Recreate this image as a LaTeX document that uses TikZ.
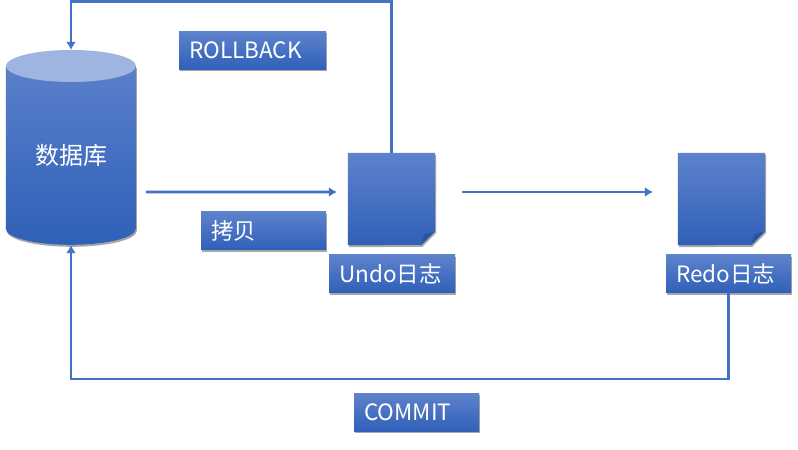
\documentclass[tikz,border=0pt]{standalone}
\usepackage{fontspec}
\setmainfont{Noto Sans CJK SC}
\usetikzlibrary{arrows.meta,shadows}
\definecolor{flowblue}{HTML}{4472C4}
\definecolor{shadetop}{HTML}{5E82CC}
\definecolor{shadebottom}{HTML}{2F60B8}
\definecolor{captop}{HTML}{9FB4E0}
\definecolor{foldblue}{HTML}{2A549E}
\tikzset{
  softshadow/.style={drop shadow={shadow xshift=1bp,shadow yshift=-2bp,fill=black,opacity=.35}},
  blueshade/.style={top color=shadetop,bottom color=shadebottom,draw=none},
  labelbox/.style={blueshade,softshadow,anchor=west,inner xsep=10bp,inner ysep=0pt,align=left,
    minimum height=38bp,text=white,font=\fontsize{22.5bp}{25bp}\selectfont},
  holder/.style={inner sep=0pt,draw=none},
  flow/.style={flowblue,line width=2.6bp,line join=miter},
}
\begin{document}
\begin{tikzpicture}[>={Latex[length=8bp,width=10bp]}]
\useasboundingbox (0bp,0bp) rectangle (798bp,450bp);
%%
\node (database) at (71bp,302.5bp) [holder,minimum width=130bp,minimum height=195bp] {};
\path [blueshade,softshadow] (database.north west) ++(0bp,-16bp) -- ++(0bp,-163bp) arc (180:360:65bp and 16bp) -- ++(0bp,163bp) -- cycle;
\fill [captop] (71bp,384bp) ellipse (65bp and 16bp);
\node (database_label) at (71bp,294.5bp) [text=white,font=\fontsize{24bp}{27bp}\selectfont] {数据库};
%
\node (undo_doc) at (391.5bp,251bp) [holder,minimum width=87bp,minimum height=92bp] {};
\path [blueshade,softshadow] (undo_doc.south west) -- (undo_doc.north west) -- (undo_doc.north east) -- ++(0bp,-78bp) -- ++(-14bp,-14bp) -- cycle;
\fill [foldblue] (undo_doc.south east) ++(0bp,14bp) -- ++(-11bp,-3bp) -- ++(-3bp,-11bp) -- cycle;
\node (redo_doc) at (721.5bp,251bp) [holder,minimum width=87bp,minimum height=92bp] {};
\path [blueshade,softshadow] (redo_doc.south west) -- (redo_doc.north west) -- (redo_doc.north east) -- ++(0bp,-78bp) -- ++(-14bp,-14bp) -- cycle;
\fill [foldblue] (redo_doc.south east) ++(0bp,14bp) -- ++(-11bp,-3bp) -- ++(-3bp,-11bp) -- cycle;
%
\node (rollback_box) at (179bp,399.5bp) [labelbox,text width=127bp] {ROLLBACK};
\node (copy_box) at (201bp,219bp) [labelbox,text width=105bp] {拷贝};
\node (undo_box) at (329bp,176bp) [labelbox,text width=106bp] {Undo日志};
\node (redo_box) at (666bp,176bp) [labelbox,text width=105bp] {Redo日志};
\node (commit_box) at (354bp,37.5bp) [labelbox,text width=105bp] {COMMIT};
%
\draw [flow,->] (undo_doc.north) -- ++(0bp,151bp) -| (database.north);
\draw [flow,->] ([xshift=10bp,yshift=-44.5bp]database.east) -- ([xshift=-11bp,yshift=7bp]undo_doc.west);
\draw [flow,->] ([xshift=27bp,yshift=7bp]undo_doc.east) -- ([xshift=-25bp,yshift=7bp]redo_doc.west);
\draw [flow,->] (redo_box.south) -- ++(0bp,-86bp) -| (database.south);
%
\end{tikzpicture}
\end{document}
